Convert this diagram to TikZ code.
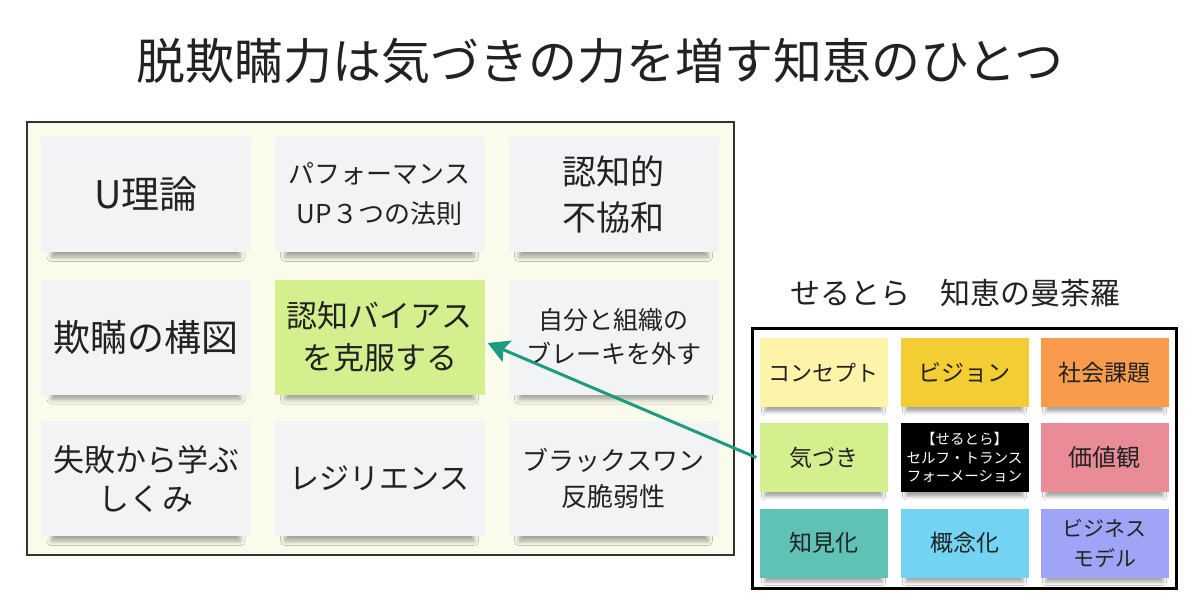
\documentclass[tikz,border=0pt]{standalone}
\usepackage{fontspec}
\setmainfont{Noto Sans CJK JP}
\usetikzlibrary{arrows.meta,shadows.blur}
\definecolor{ink}{HTML}{222222}
\definecolor{cardgray}{HTML}{F2F3F5}
\definecolor{framebg}{HTML}{FAFBEB}
\definecolor{frameline}{HTML}{333333}
\definecolor{lgreen}{HTML}{D4EF8E}
\definecolor{cpale}{HTML}{FDF4A9}
\definecolor{cgold}{HTML}{F3CD33}
\definecolor{corange}{HTML}{F89B4C}
\definecolor{cpink}{HTML}{EA8C97}
\definecolor{cteal}{HTML}{5EC2B4}
\definecolor{csky}{HTML}{72D4F2}
\definecolor{clav}{HTML}{A0A4F6}
\definecolor{arrowc}{HTML}{1C9B80}
\newcommand\myfs[2]{\fontsize{#1pt}{#2pt}\selectfont}
\tikzset{
  card/.style={fill=cardgray, draw=none, inner sep=0pt, align=center, text=ink,
    minimum width=210pt, minimum height=115pt,
    blur shadow={shadow xshift=0pt, shadow yshift=-12pt, shadow scale=0.9, shadow opacity=35, shadow blur radius=5pt}},
  mcard/.style={draw=none, inner sep=0pt, align=center, text=ink,
    minimum width=128pt, minimum height=69pt,
    blur shadow={shadow xshift=0pt, shadow yshift=-8pt, shadow scale=0.92, shadow opacity=35, shadow blur radius=3.5pt}},
  leftframe/.style={fill=framebg, draw=frameline, line width=1.5pt},
  rightframe/.style={fill=white, draw=black, line width=3pt},
  link/.style={draw=arrowc, line width=3pt, -{Stealth[length=21pt,width=23pt,inset=4pt]}},
}
\begin{document}
\begin{tikzpicture}[x=1pt,y=-1pt]
\useasboundingbox[fill=white] (0,0) rectangle (1200,611);
\node[text=ink, font=\myfs{49}{52}] (title) at (600,61) {脱欺瞞力は気づきの力を増す知恵のひとつ};

\draw[leftframe] (27,122) rectangle (734,555);
\node[card, font=\myfs{38}{44}] (utheory) at (146,194.5) {U理論};
\node[card, font=\myfs{26}{40}] (perf) at (379.5,194.5) {パフォーマンス\\UP３つの法則};
\node[card, font=\myfs{34}{46}] (dissonance) at (613.5,194.5) {認知的\\不協和};
\node[card, font=\myfs{37}{44}] (deception) at (146,337) {欺瞞の構図};
\node[card, fill=lgreen, font=\myfs{31}{42}] (bias) at (379.5,337) {認知バイアス\\を克服する};
\node[card, font=\myfs{25}{34}] (brake) at (613.5,337) {自分と組織の\\ブレーキを外す};
\node[card, font=\myfs{31}{39}] (failure) at (146,478.5) {失敗から学ぶ\\しくみ};
\node[card, font=\myfs{30}{40}] (resilience) at (379.5,478.5) {レジリエンス};
\node[card, font=\myfs{26}{36}] (swan) at (613.5,478.5) {ブラックスワン\\反脆弱性};

\node[text=ink, font=\myfs{30}{34}] (mtitle) at (955,293) {せるとら　知恵の曼荼羅};
\draw[rightframe] (752,328) rectangle (1176,588);
\node[mcard, fill=cpale, font=\myfs{22}{28}] (concept) at (823.5,372.5) {コンセプト};
\node[mcard, fill=cgold, font=\myfs{23}{28}] (vision) at (964.5,372.5) {ビジョン};
\node[mcard, fill=corange, font=\myfs{23}{28}] (social) at (1104.5,372.5) {社会課題};
\node[mcard, fill=lgreen, font=\myfs{23}{28}] (kizuki) at (823.5,457.5) {気づき};
\node[mcard, fill=black, text=white, font=\myfs{14.5}{18.5}] (center) at (964.5,457.5) {【せるとら】\\セルフ・トランス\\フォーメーション};
\node[mcard, fill=cpink, font=\myfs{24}{28}] (values) at (1104.5,457.5) {価値観};
\node[mcard, fill=cteal, font=\myfs{23}{28}] (insight) at (823.5,543) {知見化};
\node[mcard, fill=csky, font=\myfs{23}{28}] (concept2) at (964.5,543) {概念化};
\node[mcard, fill=clav, font=\myfs{21}{30}] (bizmodel) at (1104.5,543) {ビジネス\\モデル};

\draw[link] ([xshift=-3pt]kizuki.west) -- ([xshift=3pt,yshift=-6pt]bias.east);
\end{tikzpicture}
\end{document}
